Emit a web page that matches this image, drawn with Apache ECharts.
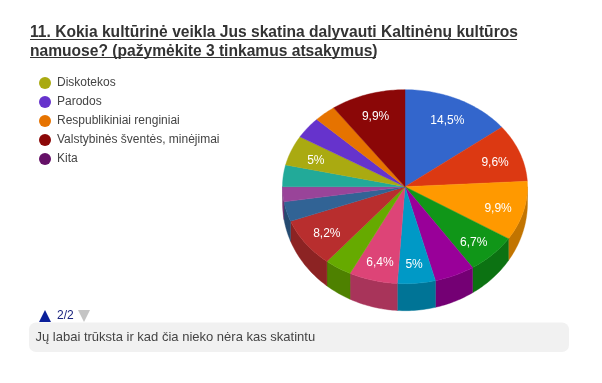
<!DOCTYPE html>
<html>
<head>
<meta charset="utf-8">
<style>html,body{margin:0;padding:0;background:#fff}#c{width:602px;height:383px}</style>
<script src="https://cdn.jsdelivr.net/npm/echarts@6/dist/echarts.min.js"></script>
</head>
<body>
<div id="c"></div>
<script>
const titleLines = ["11. Kokia kultūrinė veikla Jus skatina dalyvauti Kaltinėnų kultūros", "namuose? (pažymėkite 3 tinkamus atsakymus)"];
const legendNames = ["Diskotekos", "Parodos", "Respublikiniai renginiai", "Valstybinės šventės, minėjimai", "Kita"];
const legendColors = ["#aaaa11", "#6633cc", "#e67300", "#8b0707", "#651067"];
const sliceValues = [14.5, 9.6, 9.9, 6.7, 5.3, 5, 6.4, 3.6, 8.2, 3.3, 2.5, 3.6, 5, 3.6, 2.9, 9.9];
const sliceLabels = ["14,5%", "9,6%", "9,9%", "6,7%", "", "5%", "6,4%", "", "8,2%", "", "", "", "5%", "", "", "9,9%"];
const sliceColors = ["#3366cc", "#dc3912", "#ff9900", "#109618", "#990099", "#0099c6", "#dd4477", "#66aa00", "#b82e2e", "#316395", "#994499", "#22aa99", "#aaaa11", "#6633cc", "#e67300", "#8b0707"];
const pagerText = "2/2";
const commentText = "Jų labai trūksta ir kad čia nieko nėra kas skatintu";

const FONT = '"Liberation Sans", Arial, sans-serif';
const CX = 405, CY = 186.7, RX = 122.5, RY = 97, WALL_DY = 16, WALL_RY = 108, LABEL_K = 0.785, LABEL_DY = 2.5;
const total = sliceValues.reduce((a, b) => a + b, 0);
const toAngle = v => v / total * 2 * Math.PI;

function darken(hex, k) {
  const n = parseInt(hex.slice(1), 16);
  const c = [n >> 16, (n >> 8) & 255, n & 255].map(x => Math.round(x * k));
  return "rgb(" + c.join(",") + ")";
}
function topPoint(t) { return [CX + RX * Math.sin(t), CY - RY * Math.cos(t)]; }
function bottomPoint(t) { return [CX + RX * Math.sin(t), CY + WALL_DY - WALL_RY * Math.cos(t)]; }
function arc(fn, a, b) {
  const n = Math.max(2, Math.ceil(Math.abs(b - a) / 0.02));
  const pts = [];
  for (let i = 0; i <= n; i++) pts.push(fn(a + (b - a) * i / n));
  return pts;
}

function renderSlice(params, api) {
  const i = params.dataIndex;
  let before = 0;
  for (let k = 0; k < i; k++) before += sliceValues[k];
  const t0 = toAngle(before), t1 = toAngle(before + api.value(0));
  const color = sliceColors[i];
  const children = [];
  const a = Math.max(t0, Math.PI / 2), b = Math.min(t1, Math.PI * 1.5);
  if (b > a) {
    const wc = darken(color, 0.76);
    children.push({
      type: "polygon",
      shape: { points: arc(topPoint, a, b).concat(arc(bottomPoint, b, a)) },
      style: { fill: wc, stroke: wc, lineWidth: 0.4 }
    });
  }
  children.push({
    type: "polygon",
    shape: { points: [[CX, CY]].concat(arc(topPoint, t0, t1)) },
    style: { fill: color, stroke: color, lineWidth: 0.4 }
  });
  if (sliceLabels[i]) {
    const m = (t0 + t1) / 2;
    children.push({
      type: "text",
      style: {
        x: CX + RX * LABEL_K * Math.sin(m),
        y: CY - RY * LABEL_K * Math.cos(m) + LABEL_DY,
        text: sliceLabels[i],
        fill: "#fff",
        font: "12px " + FONT,
        align: "center",
        verticalAlign: "middle"
      }
    });
  }
  return { type: "group", children };
}

const legendSeries = legendNames.map((name, i) => ({
  type: "custom",
  name,
  coordinateSystem: "none",
  data: [],
  itemStyle: { color: legendColors[i] },
  renderItem: () => null
}));

const chart = echarts.init(document.getElementById("c"), null, { renderer: "canvas" });
chart.setOption({
  animation: false,
  backgroundColor: "#fff",
  title: {
    text: titleLines.join("\n"),
    left: 30,
    top: 23,
    padding: 0,
    textStyle: { fontFamily: FONT, fontSize: 15.6, fontWeight: "bold", color: "#333", lineHeight: 19 }
  },
  legend: {
    orient: "vertical",
    left: 39,
    top: 77,
    padding: 0,
    icon: "circle",
    itemWidth: 12,
    itemHeight: 12,
    itemGap: 7,
    data: legendNames,
    textStyle: { fontFamily: FONT, fontSize: 12, color: "#444", padding: [0, 0, 0, 1] },
    selectedMode: false
  },
  series: [{
    type: "custom",
    name: "Slices",
    coordinateSystem: "none",
    silent: true,
    data: sliceValues.map(v => [v]),
    renderItem: renderSlice
  }].concat(legendSeries),
  graphic: [
    { type: "line", shape: { x1: 30, y1: 39.5, x2: 517, y2: 39.5 }, style: { stroke: "#333", lineWidth: 1 } },
    { type: "line", shape: { x1: 30, y1: 57.5, x2: 376, y2: 57.5 }, style: { stroke: "#333", lineWidth: 1 } },
    { type: "polygon", shape: { points: [[39, 322], [45, 310], [51, 322]] }, style: { fill: "#0a1f9a" } },
    { type: "text", style: { x: 57, y: 316, text: pagerText, fill: "#1a237e", font: "12px " + FONT, verticalAlign: "middle" } },
    { type: "polygon", shape: { points: [[78, 310], [90, 310], [84, 322]] }, style: { fill: "#c4c4c4" } },
    { type: "rect", z: -1, shape: { x: 29, y: 322.5, width: 540, height: 29.5, r: 7 }, style: { fill: "#f1f1f1" } },
    { type: "text", style: { x: 35.5, y: 337, text: commentText, fill: "#444", font: "13px " + FONT, verticalAlign: "middle" } }
  ]
});
</script>
</body>
</html>
